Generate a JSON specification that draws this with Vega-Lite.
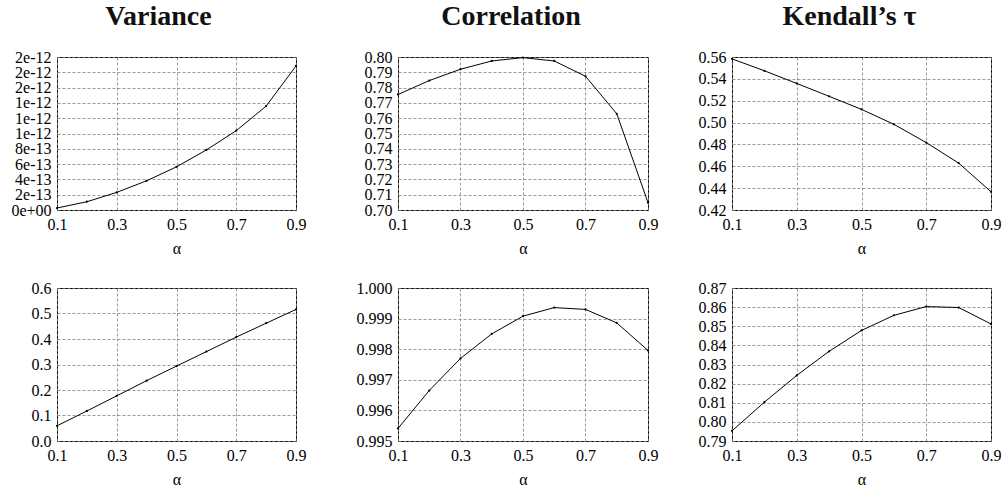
{
  "$schema": "https://vega.github.io/schema/vega-lite/v6.json",
  "padding": {"left": 10, "top": 2, "right": 6, "bottom": 4},
  "background": "white",
  "config": {
    "font": "Liberation Serif",
    "view": {"stroke": "black", "strokeWidth": 1},
    "axis": {
      "labelFont": "Liberation Serif", "labelFontSize": 16, "labelColor": "black",
      "titleFont": "Liberation Serif", "titleFontSize": 16, "titleFontWeight": "normal", "titleColor": "black",
      "gridColor": "#808080", "gridDash": [3, 2], "gridWidth": 0.8,
      "domain": false, "ticks": false, "labelPadding": 6, "titlePadding": 8,
      "labelFlush": false, "labelOverlap": false, "labelBound": false
    },
    "title": {"font": "Liberation Serif", "fontSize": 28, "fontWeight": "bold", "color": "#111111", "anchor": "middle", "frame": "bounds", "baseline": "alphabetic", "offset": 18}
  },
  "data": {"values": [
    {"p": "var1", "a": 0.1, "v": 2.6e-14}, {"p": "var1", "a": 0.2, "v": 1.08e-13}, {"p": "var1", "a": 0.3, "v": 2.3e-13},
    {"p": "var1", "a": 0.4, "v": 3.82e-13}, {"p": "var1", "a": 0.5, "v": 5.64e-13}, {"p": "var1", "a": 0.6, "v": 7.85e-13},
    {"p": "var1", "a": 0.7, "v": 1.037e-12}, {"p": "var1", "a": 0.8, "v": 1.358e-12}, {"p": "var1", "a": 0.9, "v": 1.883e-12},
    {"p": "cor1", "a": 0.1, "v": 0.7755}, {"p": "cor1", "a": 0.2, "v": 0.7846}, {"p": "cor1", "a": 0.3, "v": 0.792},
    {"p": "cor1", "a": 0.4, "v": 0.7974}, {"p": "cor1", "a": 0.5, "v": 0.7996}, {"p": "cor1", "a": 0.6, "v": 0.7974},
    {"p": "cor1", "a": 0.7, "v": 0.7874}, {"p": "cor1", "a": 0.8, "v": 0.7629}, {"p": "cor1", "a": 0.9, "v": 0.7048},
    {"p": "ken1", "a": 0.1, "v": 0.5583}, {"p": "ken1", "a": 0.2, "v": 0.5474}, {"p": "ken1", "a": 0.3, "v": 0.5358},
    {"p": "ken1", "a": 0.4, "v": 0.524}, {"p": "ken1", "a": 0.5, "v": 0.5121}, {"p": "ken1", "a": 0.6, "v": 0.4984},
    {"p": "ken1", "a": 0.7, "v": 0.4817}, {"p": "ken1", "a": 0.8, "v": 0.4629}, {"p": "ken1", "a": 0.9, "v": 0.4367},
    {"p": "var2", "a": 0.1, "v": 0.0595}, {"p": "var2", "a": 0.2, "v": 0.1177}, {"p": "var2", "a": 0.3, "v": 0.177},
    {"p": "var2", "a": 0.4, "v": 0.2367}, {"p": "var2", "a": 0.5, "v": 0.2937}, {"p": "var2", "a": 0.6, "v": 0.3506},
    {"p": "var2", "a": 0.7, "v": 0.4075}, {"p": "var2", "a": 0.8, "v": 0.4618}, {"p": "var2", "a": 0.9, "v": 0.516},
    {"p": "cor2", "a": 0.1, "v": 0.99541}, {"p": "cor2", "a": 0.2, "v": 0.99665}, {"p": "cor2", "a": 0.3, "v": 0.9977},
    {"p": "cor2", "a": 0.4, "v": 0.9985}, {"p": "cor2", "a": 0.5, "v": 0.99908}, {"p": "cor2", "a": 0.6, "v": 0.99936},
    {"p": "cor2", "a": 0.7, "v": 0.9993}, {"p": "cor2", "a": 0.8, "v": 0.99886}, {"p": "cor2", "a": 0.9, "v": 0.99796},
    {"p": "ken2", "a": 0.1, "v": 0.7953}, {"p": "ken2", "a": 0.2, "v": 0.8103}, {"p": "ken2", "a": 0.3, "v": 0.8243},
    {"p": "ken2", "a": 0.4, "v": 0.8369}, {"p": "ken2", "a": 0.5, "v": 0.8478}, {"p": "ken2", "a": 0.6, "v": 0.8557},
    {"p": "ken2", "a": 0.7, "v": 0.8603}, {"p": "ken2", "a": 0.8, "v": 0.8598}, {"p": "ken2", "a": 0.9, "v": 0.8512}
  ]},
  "spacing": 48,
  "hconcat": [
    {
      "spacing": 22,
      "vconcat": [
        {
          "width": 239, "height": 153, "title": "Variance",
          "transform": [{"filter": "datum.p == 'var1'"}],
          "encoding": {
            "x": {"field": "a", "type": "quantitative", "scale": {"domain": [0.1, 0.9], "nice": false, "zero": false}, "axis": {"values": [0.1, 0.3, 0.5, 0.7, 0.9], "format": ".1f", "title": "α"}},
            "y": {"field": "v", "type": "quantitative", "scale": {"domain": [0, 2e-12], "nice": false, "zero": false}, "axis": {"values": [0, 2e-13, 4e-13, 6e-13, 8e-13, 1e-12, 1.2e-12, 1.4e-12, 1.6e-12, 1.8e-12, 2e-12], "labelExpr": "datum.value == 0 ? '0e+00' : format(datum.value, '.0e')", "title": null}}
          },
          "layer": [
            {"mark": {"type": "line", "color": "black", "strokeWidth": 1}, "encoding": {}},
            {"mark": {"type": "point", "filled": true, "size": 5, "color": "black", "opacity": 1}, "encoding": {}}
          ]
        },
        {
          "width": 239, "height": 153,
          "transform": [{"filter": "datum.p == 'var2'"}],
          "encoding": {
            "x": {"field": "a", "type": "quantitative", "scale": {"domain": [0.1, 0.9], "nice": false, "zero": false}, "axis": {"values": [0.1, 0.3, 0.5, 0.7, 0.9], "format": ".1f", "title": "α"}},
            "y": {"field": "v", "type": "quantitative", "scale": {"domain": [0, 0.6], "nice": false, "zero": false}, "axis": {"values": [0, 0.1, 0.2, 0.3, 0.4, 0.5, 0.6], "format": ".1f", "title": null}}
          },
          "layer": [
            {"mark": {"type": "line", "color": "black", "strokeWidth": 1}, "encoding": {}},
            {"mark": {"type": "point", "filled": true, "size": 5, "color": "black", "opacity": 1}, "encoding": {}}
          ]
        }
      ]
    },
    {
      "spacing": 38,
      "hconcat": [
        {
          "spacing": 22,
          "vconcat": [
            {
              "width": 250, "height": 153, "title": "Correlation",
              "transform": [{"filter": "datum.p == 'cor1'"}],
              "encoding": {
                "x": {"field": "a", "type": "quantitative", "scale": {"domain": [0.1, 0.9], "nice": false, "zero": false}, "axis": {"values": [0.1, 0.3, 0.5, 0.7, 0.9], "format": ".1f", "title": "α"}},
                "y": {"field": "v", "type": "quantitative", "scale": {"domain": [0.7, 0.8], "nice": false, "zero": false}, "axis": {"values": [0.7, 0.71, 0.72, 0.73, 0.74, 0.75, 0.76, 0.77, 0.78, 0.79, 0.8], "format": ".2f", "title": null}}
              },
              "layer": [
                {"mark": {"type": "line", "color": "black", "strokeWidth": 1}, "encoding": {}},
                {"mark": {"type": "point", "filled": true, "size": 5, "color": "black", "opacity": 1}, "encoding": {}}
              ]
            },
            {
              "width": 250, "height": 153,
              "transform": [{"filter": "datum.p == 'cor2'"}],
              "encoding": {
                "x": {"field": "a", "type": "quantitative", "scale": {"domain": [0.1, 0.9], "nice": false, "zero": false}, "axis": {"values": [0.1, 0.3, 0.5, 0.7, 0.9], "format": ".1f", "title": "α"}},
                "y": {"field": "v", "type": "quantitative", "scale": {"domain": [0.995, 1.0], "nice": false, "zero": false}, "axis": {"values": [0.995, 0.996, 0.997, 0.998, 0.999, 1.0], "format": ".3f", "title": null}}
              },
              "layer": [
                {"mark": {"type": "line", "color": "black", "strokeWidth": 1}, "encoding": {}},
                {"mark": {"type": "point", "filled": true, "size": 5, "color": "black", "opacity": 1}, "encoding": {}}
              ]
            }
          ]
        },
        {
          "spacing": 22,
          "vconcat": [
            {
              "width": 259, "height": 153, "title": "Kendall’s τ",
              "transform": [{"filter": "datum.p == 'ken1'"}],
              "encoding": {
                "x": {"field": "a", "type": "quantitative", "scale": {"domain": [0.1, 0.9], "nice": false, "zero": false}, "axis": {"values": [0.1, 0.3, 0.5, 0.7, 0.9], "format": ".1f", "title": "α"}},
                "y": {"field": "v", "type": "quantitative", "scale": {"domain": [0.42, 0.56], "nice": false, "zero": false}, "axis": {"values": [0.42, 0.44, 0.46, 0.48, 0.5, 0.52, 0.54, 0.56], "format": ".2f", "title": null}}
              },
              "layer": [
                {"mark": {"type": "line", "color": "black", "strokeWidth": 1}, "encoding": {}},
                {"mark": {"type": "point", "filled": true, "size": 5, "color": "black", "opacity": 1}, "encoding": {}}
              ]
            },
            {
              "width": 259, "height": 153,
              "transform": [{"filter": "datum.p == 'ken2'"}],
              "encoding": {
                "x": {"field": "a", "type": "quantitative", "scale": {"domain": [0.1, 0.9], "nice": false, "zero": false}, "axis": {"values": [0.1, 0.3, 0.5, 0.7, 0.9], "format": ".1f", "title": "α"}},
                "y": {"field": "v", "type": "quantitative", "scale": {"domain": [0.79, 0.87], "nice": false, "zero": false}, "axis": {"values": [0.79, 0.8, 0.81, 0.82, 0.83, 0.84, 0.85, 0.86, 0.87], "format": ".2f", "title": null}}
              },
              "layer": [
                {"mark": {"type": "line", "color": "black", "strokeWidth": 1}, "encoding": {}},
                {"mark": {"type": "point", "filled": true, "size": 5, "color": "black", "opacity": 1}, "encoding": {}}
              ]
            }
          ]
        }
      ]
    }
  ]
}
